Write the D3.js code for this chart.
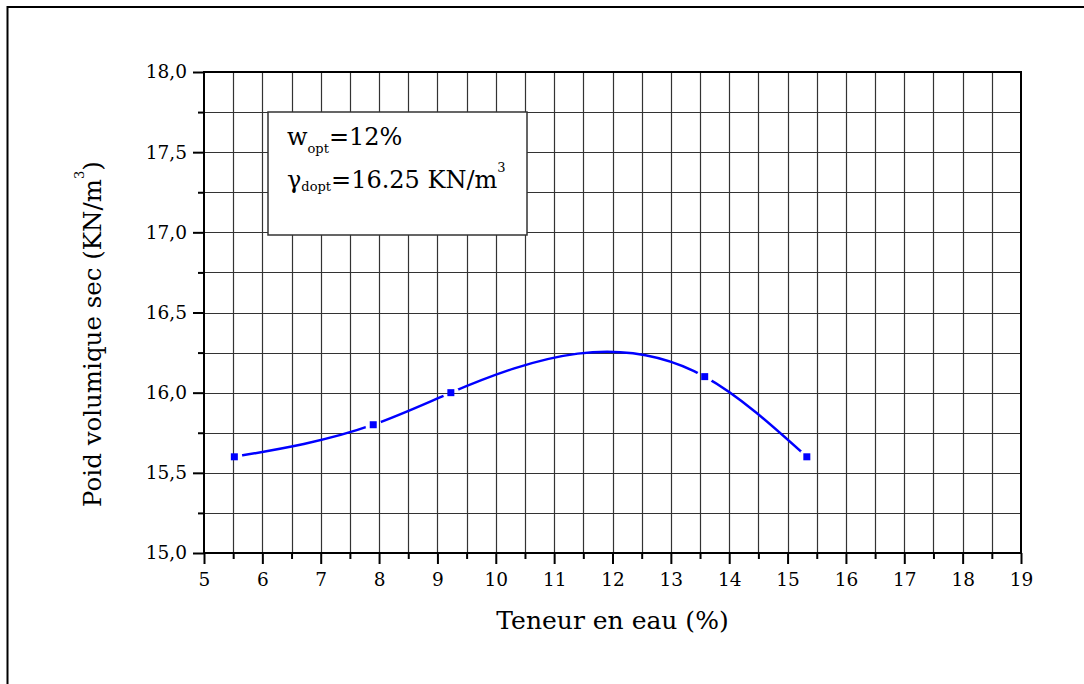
<!DOCTYPE html>
<html>
<head>
<meta charset="utf-8">
<script src="https://cdn.jsdelivr.net/npm/d3@7"></script>
<style>
  body { margin: 0; background: #fff; }
  svg text { font-family: "DejaVu Serif", "Liberation Serif", serif !important; fill: #000; }
</style>
</head>
<body>
<svg id="chart" width="1084" height="684" font-family="DejaVu Serif"></svg>
<script>
// water content (%) and dry unit weight (KN/m3)
const teneur = [5.52, 7.9, 9.23, 13.58, 15.33];
const poids = [15.6, 15.8, 16.0, 16.1, 15.6];

const xTicks = [5, 6, 7, 8, 9, 10, 11, 12, 13, 14, 15, 16, 17, 18, 19];
const yTicks = [15.0, 15.5, 16.0, 16.5, 17.0, 17.5, 18.0];

const wOpt = "12%";
const gammaOpt = "16.25 KN/m";

const svg = d3.select("#chart");
const plotLeft = 204, plotRight = 1021, plotTop = 72, plotBottom = 553;

const x = d3.scaleLinear().domain([5, 19]).range([plotLeft, plotRight]);
const y = d3.scaleLinear().domain([15, 18]).range([plotBottom, plotTop]);

const fr = d3.formatLocale({decimal: ",", thousands: " ", grouping: [3], currency: ["", ""]});
const fmt = fr.format(".1f");

// outer frame of the figure
svg.append("rect")
    .attr("x", 7.5).attr("y", 7)
    .attr("width", 1100).attr("height", 700)
    .attr("fill", "none")
    .attr("stroke", "#000")
    .attr("stroke-width", 2);

// grid every half unit in x and quarter unit in y
const xGrid = d3.range(5.5, 19, 0.5);
const yGrid = d3.range(15.25, 18, 0.25);

let grid = svg.append("g").attr("stroke", "#333").attr("stroke-width", 1.2);
grid.selectAll("line.v")
    .data(xGrid)
    .enter().append("line")
    .attr("x1", d => Math.round(x(d)) + 0.5).attr("x2", d => Math.round(x(d)) + 0.5)
    .attr("y1", plotTop).attr("y2", plotBottom);
grid.selectAll("line.h")
    .data(yGrid)
    .enter().append("line")
    .attr("y1", d => Math.round(y(d)) + 0.5).attr("y2", d => Math.round(y(d)) + 0.5)
    .attr("x1", plotLeft).attr("x2", plotRight);

// legend box with the optimum values
const lg = svg.append("g");
lg.append("rect")
    .attr("x", 268).attr("y", 112)
    .attr("width", 259).attr("height", 123)
    .attr("fill", "#fff")
    .attr("stroke", "#333")
    .attr("stroke-width", 1.5);

let t1 = lg.append("text").attr("x", 287).attr("y", 145).attr("font-size", 24);
t1.append("tspan").text("w");
t1.append("tspan").attr("font-size", 13).attr("dy", 8).text("opt");
t1.append("tspan").attr("dy", -8).text("=" + wOpt);

let t2 = lg.append("text").attr("x", 287).attr("y", 188).attr("font-size", 24);
t2.append("tspan").text("γ");
t2.append("tspan").attr("font-size", 13).attr("dy", 3).text("dopt");
t2.append("tspan").attr("dy", -3).text("=" + gammaOpt);
t2.append("tspan").attr("font-size", 13).attr("dy", -16).text("3");

// axes
const xAxis = d3.axisBottom(x).tickValues(xTicks).tickSize(11).tickPadding(9).tickFormat(d3.format("d"));
const yAxis = d3.axisLeft(y).tickValues(yTicks).tickSize(11).tickPadding(6).tickFormat(fmt);

const gx = svg.append("g").attr("transform", `translate(0,${plotBottom})`).call(xAxis);
const gy = svg.append("g").attr("transform", `translate(${plotLeft},0)`).call(yAxis);

// minor ticks
svg.append("g").attr("transform", `translate(0,${plotBottom})`)
    .call(d3.axisBottom(x).tickValues(d3.range(5.5, 19, 1)).tickSize(6).tickFormat(""));
svg.append("g").attr("transform", `translate(${plotLeft},0)`)
    .call(d3.axisLeft(y).tickValues(d3.range(15.25, 18, 0.5)).tickSize(6).tickFormat(""));

svg.selectAll(".domain").remove();
svg.selectAll(".tick line").attr("stroke", "#000").attr("stroke-width", 2);
svg.selectAll("g").attr("font-family", "DejaVu Serif");
gx.selectAll("text").attr("font-size", 18.5);
gy.selectAll("text").attr("font-size", 18.5);

// plot frame
svg.append("rect")
    .attr("x", plotLeft).attr("y", plotTop)
    .attr("width", plotRight - plotLeft).attr("height", plotBottom - plotTop)
    .attr("fill", "none")
    .attr("stroke", "#000")
    .attr("stroke-width", 2);

// axis titles
svg.append("text")
    .attr("x", (plotLeft + plotRight) / 2).attr("y", 629)
    .attr("text-anchor", "middle")
    .attr("font-family", "DejaVu Serif")
    .attr("font-size", 25)
    .text("Teneur en eau (%)");

let yl = svg.append("text")
    .attr("transform", "translate(101,334) rotate(-90)")
    .attr("text-anchor", "middle")
    .attr("font-family", "DejaVu Serif")
    .attr("font-size", 24.5);
yl.append("tspan").text("Poid volumique sec (KN/m");
yl.append("tspan").attr("font-size", 13).attr("dy", -17).text("3");
yl.append("tspan").attr("dy", 17).text(")");

// natural cubic spline in x, emitted as bezier segments
function splineX(context) {
    return {
        areaStart() {}, areaEnd() {},
        lineStart() { this._p = []; },
        point(px, py) { this._p.push([+px, +py]); },
        lineEnd() {
            const p = this._p, n = p.length;
            if (n < 2) return;
            const h = [], s = [];
            for (let i = 0; i < n - 1; i++) {
                h.push(p[i + 1][0] - p[i][0]);
                s.push((p[i + 1][1] - p[i][1]) / h[i]);
            }
            // tridiagonal system for second derivatives
            const M = new Array(n).fill(0);
            const a = [], b = [], c = [], r = [];
            for (let i = 1; i < n - 1; i++) {
                a.push(h[i - 1]);
                b.push(2 * (h[i - 1] + h[i]));
                c.push(h[i]);
                r.push(6 * (s[i] - s[i - 1]));
            }
            const m = b.length;
            for (let i = 1; i < m; i++) {
                const w = a[i] / b[i - 1];
                b[i] -= w * c[i - 1];
                r[i] -= w * r[i - 1];
            }
            for (let i = m - 1; i >= 0; i--) {
                M[i + 1] = (r[i] - (i < m - 1 ? c[i] * M[i + 2] : 0)) / b[i];
            }
            context.moveTo(p[0][0], p[0][1]);
            for (let i = 0; i < n - 1; i++) {
                const d0 = s[i] - h[i] * (2 * M[i] + M[i + 1]) / 6;
                const d1 = s[i] + h[i] * (M[i] + 2 * M[i + 1]) / 6;
                const k = h[i] / 3;
                context.bezierCurveTo(
                    p[i][0] + k, p[i][1] + k * d0,
                    p[i + 1][0] - k, p[i + 1][1] - k * d1,
                    p[i + 1][0], p[i + 1][1]);
            }
        }
    };
}

const pts = teneur.map((t, i) => ({t: t, p: poids[i]}));

// gaps in the curve around each marker
const mask = svg.append("defs").append("mask")
    .attr("id", "gaps")
    .attr("maskUnits", "userSpaceOnUse");
mask.append("rect").attr("width", 1084).attr("height", 684).attr("fill", "#fff");
mask.selectAll("circle")
    .data(pts)
    .enter().append("circle")
    .attr("cx", d => x(d.t)).attr("cy", d => y(d.p))
    .attr("r", 8)
    .attr("fill", "#000");

const line = d3.line().x(d => x(d.t)).y(d => y(d.p)).curve(splineX);

svg.append("path")
    .datum(pts)
    .attr("d", line)
    .attr("fill", "none")
    .attr("stroke", "#0000ff")
    .attr("stroke-width", 2.4)
    .attr("mask", "url(#gaps)");

svg.selectAll("rect.pt")
    .data(pts)
    .enter().append("rect")
    .attr("class", "pt")
    .attr("x", d => x(d.t) - 3.5).attr("y", d => y(d.p) - 3.5)
    .attr("width", 7).attr("height", 7)
    .attr("fill", "#0000ff");
</script>
</body>
</html>
